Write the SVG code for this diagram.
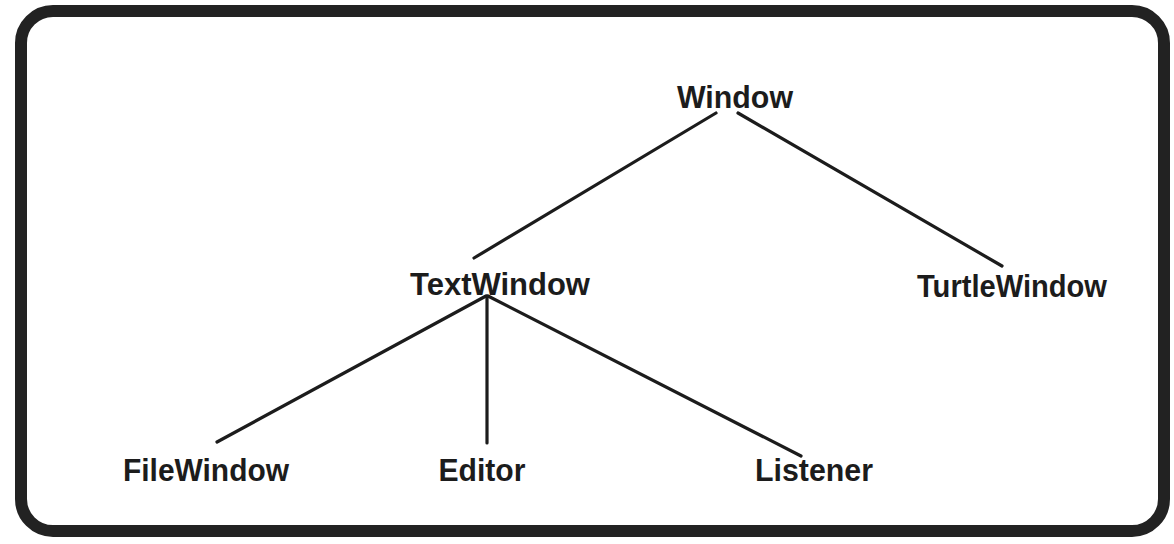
<svg xmlns="http://www.w3.org/2000/svg" width="1174" height="544" viewBox="0 0 1174 544">
  <style>
    .label { font-family: "Liberation Sans", Arial, Helvetica, sans-serif; font-weight: bold; font-size: 31px; fill: #1c1c1c; text-anchor: middle; }
    .edge { stroke: #1c1c1c; stroke-width: 3.2; stroke-linecap: round; fill: none; }
    .frame { fill: #ffffff; stroke: #222222; stroke-width: 12; }
  </style>
  <rect x="0" y="0" width="1174" height="544" fill="#ffffff"/>
  <rect class="frame" x="21" y="11" width="1143" height="520" rx="32" ry="32"/>
  <g id="connectors">
    <line class="edge" x1="716" y1="113" x2="474" y2="258"/>
    <line class="edge" x1="738" y1="113" x2="1002" y2="266"/>
    <line class="edge" x1="486" y1="296" x2="217" y2="442"/>
    <line class="edge" x1="487" y1="296" x2="487" y2="443"/>
    <line class="edge" x1="488" y1="296" x2="801" y2="456"/>
  </g>
  <g id="node-window"><text class="label" x="735" y="108" textLength="116" lengthAdjust="spacingAndGlyphs">Window</text></g>
  <g id="node-textwindow"><text class="label" x="500" y="295" textLength="180" lengthAdjust="spacingAndGlyphs">TextWindow</text></g>
  <g id="node-turtlewindow"><text class="label" x="1012" y="297" textLength="190" lengthAdjust="spacingAndGlyphs">TurtleWindow</text></g>
  <g id="node-filewindow"><text class="label" x="206" y="481" textLength="166" lengthAdjust="spacingAndGlyphs">FileWindow</text></g>
  <g id="node-editor"><text class="label" x="482" y="481" textLength="87" lengthAdjust="spacingAndGlyphs">Editor</text></g>
  <g id="node-listener"><text class="label" x="814" y="481" textLength="118" lengthAdjust="spacingAndGlyphs">Listener</text></g>
</svg>
